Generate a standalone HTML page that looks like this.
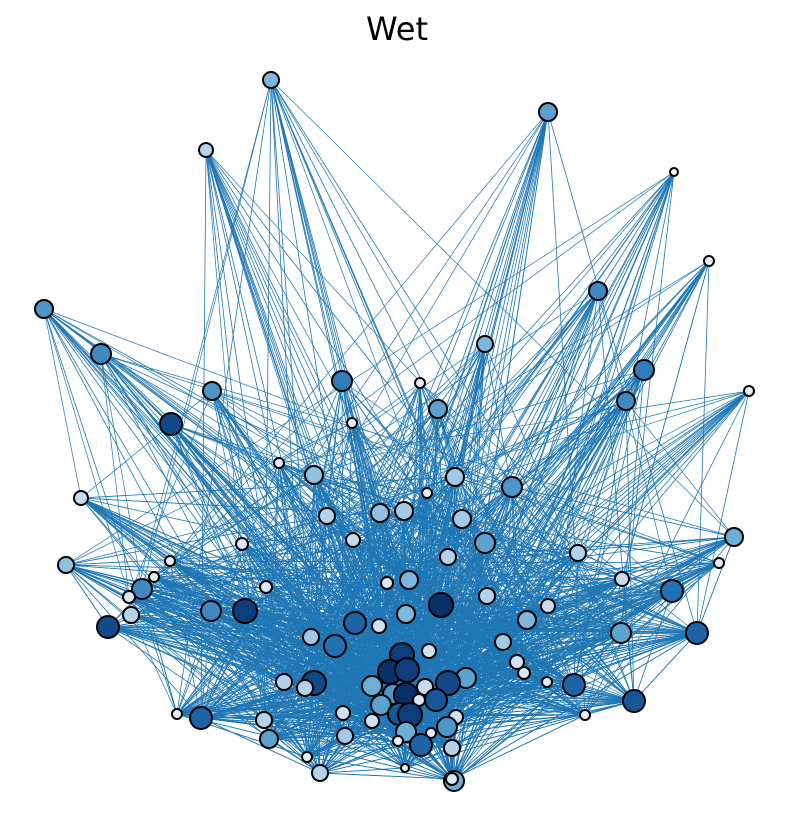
<!DOCTYPE html>
<html><head><meta charset="utf-8"><style>
html,body{margin:0;padding:0;background:#fff;}
svg{display:block;}
</style></head><body>
<svg id="chart" width="794" height="826" xmlns="http://www.w3.org/2000/svg">
<text x="397" y="40" text-anchor="middle" font-family="DejaVu Sans, Liberation Sans, sans-serif" font-size="32">Wet</text>
<g id="edges"></g>
<g id="nodes"></g>
</svg>
<script>
const nodeX=[271,548,206,674,709,598,44,101,485,644,749,342,420,212,626,438,171,352,279,314,455,512,81,427,327,380,404,462,734,242,353,485,66,578,170,448,719,154,622,387,409,266,142,129,672,487,441,245,211,131,548,406,108,527,355,379,697,621,311,335,503,429,402,517,390,407,524,466,448,314,284,372,574,547,305,425,393,436,406,634,381,419,343,456,177,201,399,372,410,585,264,447,406,431,269,345,421,398,452,307,405,320,454,452];
const nodeY=[80,112,150,172,261,291,309,354,344,370,391,381,383,391,401,409,424,423,463,475,477,487,498,493,516,513,511,519,537,544,540,543,565,553,561,557,563,577,579,583,580,587,589,597,591,596,605,611,611,615,606,614,627,620,623,626,633,633,637,646,642,651,655,662,672,670,673,678,683,683,682,686,685,682,688,687,694,700,695,701,705,700,713,717,714,718,714,721,715,715,720,727,732,733,739,736,745,741,748,757,768,773,781,779];
const nodeR=[8,9,7,4,5,9,9,10,8,10,5,10,5,9,9,9,11,5,5,9,9,10,7,5,8,9,9,9,9,6,7,10,8,8,5,8,5,5,7,6,9,6,10,6,11,8,12,12,10,8,7,9,11,9,11,7,11,10,8,11,8,7,12,7,12,12,6,10,12,12,8,10,11,5,8,8,10,11,12,11,10,6,7,7,5,11,11,7,12,5,8,10,10,5,9,8,11,5,8,5,4,8,10,6];
const nodeVal=[0.45,0.55,0.3,0.05,0.1,0.65,0.6,0.65,0.45,0.7,0.1,0.7,0.1,0.6,0.65,0.55,0.9,0.1,0.1,0.4,0.35,0.6,0.25,0.1,0.3,0.4,0.35,0.35,0.5,0.15,0.25,0.55,0.4,0.3,0.1,0.3,0.1,0.1,0.25,0.15,0.45,0.15,0.65,0.15,0.75,0.3,1.0,0.95,0.65,0.3,0.25,0.45,0.9,0.45,0.8,0.2,0.8,0.55,0.35,0.75,0.35,0.2,0.95,0.2,1.0,0.95,0.15,0.55,0.9,0.9,0.3,0.5,0.8,0.1,0.3,0.25,0.6,0.85,1.0,0.85,0.55,0.15,0.2,0.2,0.1,0.8,0.85,0.2,0.95,0.1,0.3,0.6,0.5,0.1,0.55,0.35,0.8,0.1,0.3,0.1,0.05,0.3,0.5,0.15];

const NS="http://www.w3.org/2000/svg";
const stops=[[0,[247,251,255]],[0.25,[198,219,239]],[0.5,[107,174,214]],[0.75,[33,113,181]],[1,[8,48,107]]];
function blues(v){
  for(let k=1;k<stops.length;k++){
    if(v<=stops[k][0]){
      const a=stops[k-1],b=stops[k],t=(v-a[0])/(b[0]-a[0]);
      const c=a[1].map((x,i)=>Math.round(x+(b[1][i]-x)*t));
      return "rgb("+c.join(",")+")";
    }
  }
  return "rgb(8,48,107)";
}
const eg=document.getElementById("edges");
function addEdge(i,j,w){
  const l=document.createElementNS(NS,"line");
  
  
  l.setAttribute("x1",nodeX[i]);l.setAttribute("y1",nodeY[i]);
  l.setAttribute("x2",nodeX[j]);l.setAttribute("y2",nodeY[j]);
  l.setAttribute("stroke","#1f77b4");l.setAttribute("stroke-width",w);
  eg.appendChild(l);
}
const hubs=[],mids=[];
for(let i=0;i<nodeX.length;i++){ if(nodeY[i]>630) hubs.push(i); else if(nodeY[i]>450) mids.push(i); }
for(let i=0;i<nodeX.length;i++){
  for(const j of hubs){ if(j!==i&&(i+j)%3===0) addEdge(i,j,"0.8"); }
  for(const j of mids){ if(j!==i&&(i+j)%7===0) addEdge(i,j,"0.7"); }
}
const ng=document.getElementById("nodes");
for(let i=0;i<nodeX.length;i++){
  const c=document.createElementNS(NS,"circle");
  
  
  c.setAttribute("cx",nodeX[i]);c.setAttribute("cy",nodeY[i]);c.setAttribute("r",nodeR[i]);
  c.setAttribute("fill",blues(nodeVal[i]));c.setAttribute("stroke","#000");c.setAttribute("stroke-width","2");
  ng.appendChild(c);
}
</script>
</body></html>
